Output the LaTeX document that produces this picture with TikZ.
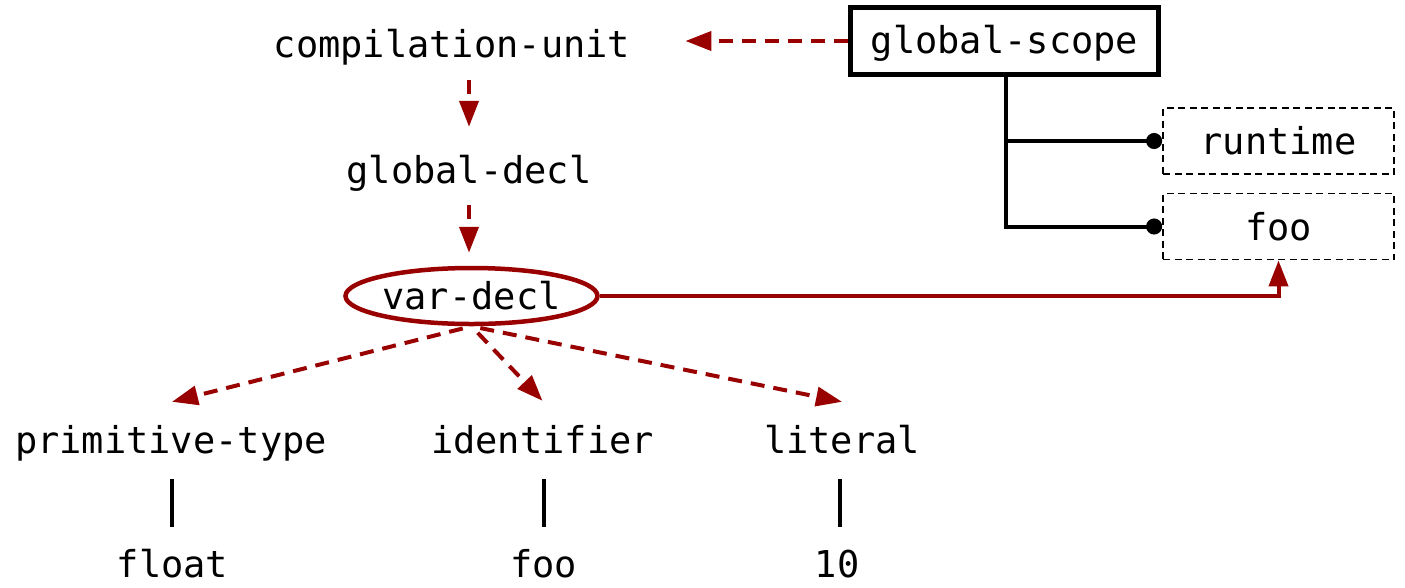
\documentclass[tikz,border=0pt]{standalone}
\usepackage{fontspec}
\setmonofont{DejaVu Sans Mono}
\usetikzlibrary{arrows.meta,shapes.geometric,calc}
\definecolor{dred}{RGB}{153,0,0}
\begin{document}
\begin{tikzpicture}[x=1pt,y=-1pt,
  every node/.style={font=\ttfamily\fontsize{37}{44}\selectfont},
  lbl/.style={inner sep=0pt,text height=28pt,text depth=8pt,anchor=base},
  redash/.style={draw=dred,line width=4pt,dash pattern=on 14pt off 9pt,
     -{Triangle[length=26pt,width=19pt]}},
  redline/.style={draw=dred,line width=4pt,-{Triangle[length=26pt,width=19pt]}},
  blk/.style={draw=black,line width=4pt},
  dotend/.style={blk,-{Circle[length=16pt]}},
  scopebox/.style={draw=black,line width=5.5pt,inner sep=0pt,minimum width=308pt,
     minimum height=67pt,text height=30pt,text depth=5pt},
  symbox/.style={draw=black,line width=1.8pt,dash pattern=on 7pt off 4.5pt,inner sep=0pt,
     minimum width=231pt,minimum height=66pt,text height=30pt,text depth=3pt},
  declell/.style={ellipse,draw=dred,line width=4.5pt,inner sep=0pt,minimum width=248pt,
     minimum height=56pt,text height=30pt,text depth=4pt}
]
\useasboundingbox (0,0) rectangle (1405,587);

\node[lbl] (cu) at (452,57) {compilation-unit};
\node[scopebox] (gs) at (1004.5,41) {global-scope};
\node[symbox] (rt) at (1278.5,141) {runtime};
\node[symbox] (fb) at (1278.5,226.5) {foo};
\node[lbl] (gd) at (469,183) {global-decl};
\node[declell] (vd) at (471.5,296) {var-decl};
\node[lbl] (pt) at (171,453) {primitive-type};
\node[lbl] (id) at (542.5,453) {identifier};
\node[lbl] (li) at (842,453) {literal};
\node[lbl] (fl) at (172.5,577) {float};
\node[lbl] (fo) at (543.5,577) {foo};
\node[lbl] (tn) at (837,577) {10};

% red dashed arrows
\draw[redash,shorten >=55pt] (gs.west) -- (gs.west -| cu.east);
\draw[redash,shorten <=15pt,shorten >=28pt] (cu.south -| gd.north) -- (gd.north);
\draw[redash,shorten <=14pt,shorten >=13pt] (gd.south) -- (gd.south |- vd.north);
\draw[redash,shorten <=9pt] (vd.south) -- ([xshift=1pt,yshift=23pt]pt.north);
\draw[redash,shorten <=9pt] (vd.south) -- ([yshift=24pt]id.north);
\draw[redash,shorten <=9pt] (vd.south) -- ([yshift=23pt]li.north);

% red solid connector
\draw[redline] (vd.east) -| (fb.south);

% scope tree
\draw[blk] ([xshift=1.5pt]gs.south) |- ([xshift=-2pt]fb.west);
\draw[dotend] ([xshift=1.5pt]gs.south |- rt.west) -- (rt.west);
\draw[dotend] ([xshift=1.5pt]gs.south |- fb.west) -- (fb.west);

% leaf lines
\draw[blk,shorten <=18pt,shorten >=22pt] ([xshift=-1pt]fl.north |- pt.south) -- ([xshift=-1pt]fl.north);
\draw[blk,shorten <=18pt,shorten >=22pt] (fo.north |- id.south) -- (fo.north);
\draw[blk,shorten <=18pt,shorten >=22pt] ([xshift=3pt]tn.north |- li.south) -- ([xshift=3pt]tn.north);
\end{tikzpicture}
\end{document}
